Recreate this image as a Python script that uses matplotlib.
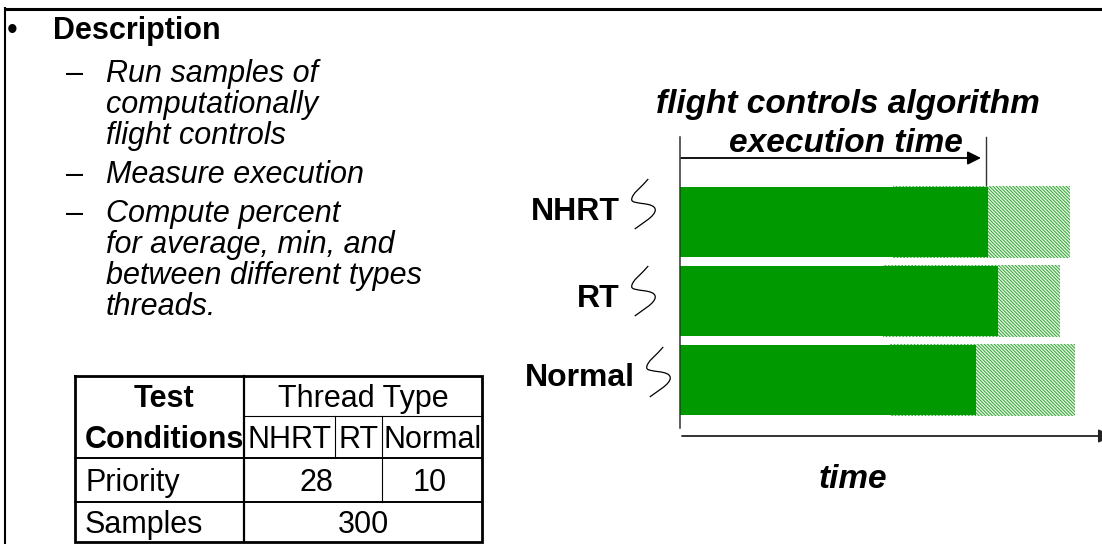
import matplotlib
matplotlib.use("Agg")
import matplotlib.pyplot as plt
from matplotlib.path import Path
from matplotlib.patches import PathPatch

plt.rcParams["font.family"] = ["Liberation Sans", "DejaVu Sans"]
plt.rcParams["hatch.linewidth"] = 0.7

# execution time per thread type (arbitrary time units)
threads = ["NHRT", "RT", "Normal"]
avg_time = [30.8, 31.8, 29.6]
min_time = [21.3, 20.3, 21.0]
max_time = [39.0, 38.0, 39.5]

# description text
heading = "Description"
items = [
    ["Run samples of", "computationally", "flight controls"],
    ["Measure execution"],
    ["Compute percent", "for average, min, and", "between different types", "threads."],
]

# test conditions table
table_head = ["Test", "Conditions"]
thread_group = "Thread Type"
thread_cols = ["NHRT", "RT", "Normal"]
row_labels = ["Priority", "Samples"]
priority_vals = ["28", "10"]
samples_val = "300"

W, H = 1102, 544
fig = plt.figure(figsize=(W / 100, H / 100), dpi=100)
ax = fig.add_axes([0, 0, 1, 1])
ax.set_xlim(0, W)
ax.set_ylim(H, 0)
ax.axis("off")

# slide frame
ax.plot([4, W], [8.5, 8.5], color="black", lw=2.2, solid_capstyle="butt")
ax.plot([5, 5], [7, H], color="black", lw=1.5, solid_capstyle="butt")

# ---- left: description bullets ----
FS = 22
ax.text(12, 39, "\u2022", fontsize=FS, ha="center", va="baseline")
ax.text(53, 39, heading, fontsize=FS, fontweight="bold", va="baseline")
base = 82
for group in items:
    ax.text(66, base, "\u2013", fontsize=FS, va="baseline")
    for k, line in enumerate(group):
        ax.text(106, base + 31 * k, line, fontsize=FS, style="italic", va="baseline")
    base += 31 * (len(group) - 1) + 39

# ---- left: table ----
tl, tr, tt, tb = 75, 482, 376, 542
c1, c2, c3 = 244, 335, 382
r1, r2, r3 = 416, 458, 502
ax.plot([tl, tr, tr, tl, tl], [tt, tt, tb, tb, tt], color="black", lw=2.0,
        solid_joinstyle="miter")
ax.plot([c1, c1], [tt, tb], color="black", lw=1.6)
ax.plot([c1, tr], [r1, r1], color="black", lw=0.8)
ax.plot([tl, tr], [r2, r2], color="black", lw=1.4)
ax.plot([tl, tr], [r3, r3], color="black", lw=1.4)
ax.plot([c2, c2], [r1, r2], color="black", lw=0.8)
ax.plot([c3, c3], [r1, r3], color="black", lw=0.8)

ax.text(164, 407, table_head[0], fontsize=FS, fontweight="bold", ha="center", va="baseline")
ax.text(85, 448, table_head[1], fontsize=FS, fontweight="bold", va="baseline")
ax.text(363, 407, thread_group, fontsize=FS, ha="center", va="baseline")
ax.text((c1 + c2) / 2, 448, thread_cols[0], fontsize=FS, ha="center", va="baseline")
ax.text((c2 + c3) / 2, 448, thread_cols[1], fontsize=FS, ha="center", va="baseline")
ax.text(c3 + 2, 448, thread_cols[2], fontsize=FS, va="baseline")
ax.text(85, 491, row_labels[0], fontsize=FS, va="baseline")
ax.text(85, 533, row_labels[1], fontsize=FS, va="baseline")
ax.text(316, 491, priority_vals[0], fontsize=FS, ha="center", va="baseline")
ax.text(430, 491, priority_vals[1], fontsize=FS, ha="center", va="baseline")
ax.text((c1 + tr) / 2, 533, samples_val, fontsize=FS, ha="center", va="baseline")

# ---- right: execution time bars ----
bl, br, bt, bb = 680, W, 137, 428
axb = fig.add_axes([bl / W, (H - bb) / H, (br - bl) / W, (bb - bt) / H])
axb.set_xlim(0, 42.2)
axb.set_ylim(2.608, -1.076)
ypos = list(range(len(threads)))
spans = [hi - lo for lo, hi in zip(min_time, max_time)]
axb.barh(ypos, spans, left=min_time, height=0.9, color="#e6f5e6",
         edgecolor="#2fa52f", hatch="\\" * 10, linewidth=0, zorder=1)
axb.barh(ypos, avg_time, height=0.88, color="#009900", zorder=2)
for side in ["top", "right", "bottom"]:
    axb.spines[side].set_visible(False)
axb.spines["left"].set_color("#333333")
axb.spines["left"].set_linewidth(1.1)
axb.set_xticks([])
axb.set_yticks([])
axb.patch.set_alpha(0)


def to_px(x, y):
    dx, dy = axb.transData.transform((x, y))
    return dx, H - dy


# thread labels with squiggles
label_dy = [-2, 6, 6]
label_right = [620, 620, 635]
sq_left = [631, 631, 646]
sq_top_dy = [-43, -35, -33]
sq_verts = [(0.69, 0.0), (0.45, 0.15), (0.0, 0.3), (0.03, 0.42),
            (0.06, 0.52), (0.97, 0.45), (0.97, 0.62),
            (0.97, 0.75), (0.4, 0.9), (0.15, 1.0)]
sq_codes = [Path.MOVETO] + [Path.CURVE4] * 9
for i, name in enumerate(threads):
    _, yc = to_px(0, i)
    ax.text(label_right[i], yc + label_dy[i], name, fontsize=23, fontweight="bold",
            ha="right", va="baseline")
    verts = [(sq_left[i] + u * 25, yc + sq_top_dy[i] + v * 50) for u, v in sq_verts]
    ax.add_patch(PathPatch(Path(verts, sq_codes), fill=False, lw=0.9, color="black"))

# execution time arrow up to the NHRT average
tick_x, _ = to_px(avg_time[0], 0)
tick_x -= 2
ax.plot([tick_x, tick_x], [137, 187], color="#333333", lw=1.0)
ax.annotate("", xy=(tick_x - 5, 158), xytext=(681, 158), annotation_clip=False,
            arrowprops=dict(arrowstyle="-|>", lw=1.3, color="black",
                            mutation_scale=20, shrinkA=0, shrinkB=0))
ax.annotate("", xy=(1112, 436), xytext=(682, 436), annotation_clip=False,
            arrowprops=dict(arrowstyle="-|>", lw=1.3, color="#222222",
                            mutation_scale=20, shrinkA=0, shrinkB=0))

ax.text(848, 113, "flight controls algorithm", fontsize=24, fontweight="bold",
        style="italic", ha="center", va="baseline")
ax.text(846, 152, "execution time", fontsize=24, fontweight="bold",
        style="italic", ha="center", va="baseline")
ax.text(853, 488, "time", fontsize=24, fontweight="bold", style="italic",
        ha="center", va="baseline")

fig.savefig("out.png", dpi=100)
plt.close(fig)
